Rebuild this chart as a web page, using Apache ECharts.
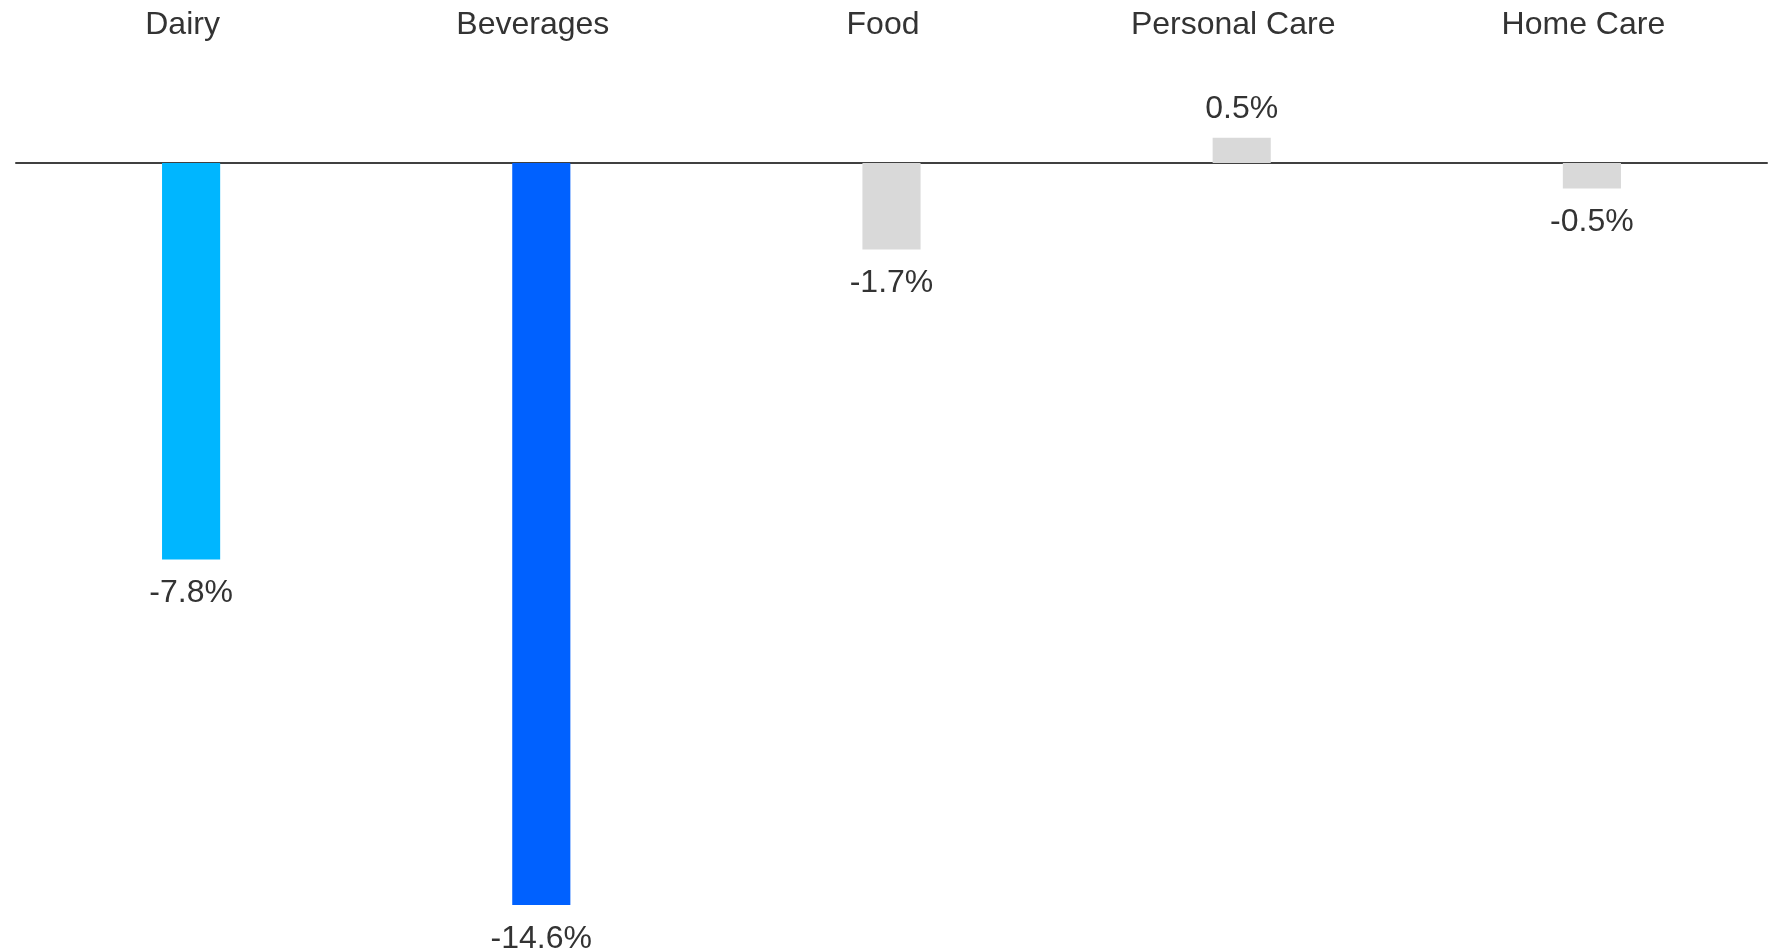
<!DOCTYPE html>
<html>
<head>
<meta charset="utf-8">
<style>
  html, body { margin: 0; padding: 0; background: #fff; }
  #chart { width: 1780px; height: 951px; }
</style>
<script src="https://cdn.jsdelivr.net/npm/echarts@6/dist/echarts.min.js"></script>
</head>
<body>
<div id="chart"></div>
<script>
// Year-on-year change by category (%)
const categories = ['Dairy', 'Beverages', 'Food', 'Personal Care', 'Home Care'];
const changes = [-7.8, -14.6, -1.7, 0.5, -0.5];
const barColors = ['#00B6FF', '#0061FF', '#D9D9D9', '#D9D9D9', '#D9D9D9'];

const FONT = '"Liberation Sans", Arial, sans-serif';
const TEXT = '#333333';

const data = changes.map((v, i) => ({
  value: v,
  itemStyle: { color: barColors[i] },
  label: {
    position: v >= 0 ? 'top' : 'bottom',
    distance: v >= 0 ? 13 : 18
  }
}));

const chart = echarts.init(document.getElementById('chart'));
chart.setOption({
  animation: false,
  backgroundColor: '#ffffff',
  grid: {
    left: 16, right: 13, top: 61.5, bottom: 25.7,
    containLabel: false,
    outerBoundsMode: 'none'
  },
  xAxis: [
    {
      // zero baseline
      type: 'category',
      data: categories,
      axisLine: { show: true, onZero: true, lineStyle: { color: '#404040', width: 2 } },
      axisTick: { show: false },
      axisLabel: { show: false },
      splitLine: { show: false }
    },
    {
      // category names along the top
      type: 'category',
      position: 'top',
      data: categories,
      axisLine: { show: false, onZero: false },
      axisTick: { show: false },
      axisLabel: {
        color: TEXT,
        fontFamily: FONT,
        fontSize: 32,
        margin: 20,
        padding: [0, 17, 0, 0]
      },
      splitLine: { show: false }
    }
  ],
  yAxis: {
    type: 'value',
    min: -15,
    max: 2,
    show: false,
    splitLine: { show: false }
  },
  series: [{
    type: 'bar',
    data: data,
    barWidth: '16.6%',
    label: {
      show: true,
      color: TEXT,
      fontFamily: FONT,
      fontSize: 32,
      formatter: p => p.value.toFixed(1) + '%'
    }
  }]
});
</script>
</body>
</html>
